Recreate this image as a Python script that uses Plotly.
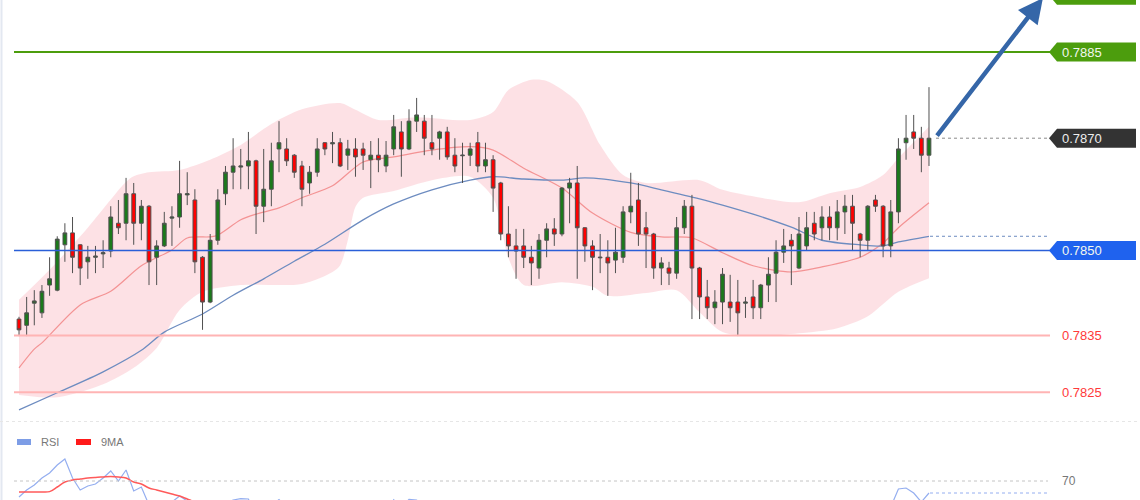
import plotly.graph_objects as go

# ---------------- data ----------------
opens = [0.78379,0.78368,0.78407,0.78390,0.78439,0.78430,0.78510,0.78531,0.78510,0.78480,
         0.78488,0.78494,0.78499,0.78548,0.78548,0.78600,0.78548,0.78578,0.78488,0.78508,
         0.78557,0.78559,0.78598,0.78589,0.78488,0.78409,0.78518,0.78600,0.78638,0.78647,
         0.78649,0.78658,0.78578,0.78608,0.78679,0.78679,0.78668,0.78649,0.78619,0.78638,
         0.78690,0.78688,0.78690,0.78668,0.78679,0.78679,0.78660,0.78668,0.78649,0.78679,
         0.78709,0.78679,0.78728,0.78728,0.78690,0.78698,0.78709,0.78668,0.78667,0.78668,
         0.78690,0.78649,0.78660,0.78619,0.78529,0.78508,0.78508,0.78488,0.78469,0.78518,
         0.78538,0.78529,0.78610,0.78619,0.78540,0.78508,0.78487,0.78488,0.78483,0.78488,
         0.78568,0.78589,0.78540,0.78529,0.78469,0.78469,0.78460,0.78540,0.78578,0.78469,
         0.78418,0.78399,0.78409,0.78409,0.78409,0.78407,0.78418,0.78399,0.78439,0.78460,
         0.78497,0.78518,0.78469,0.78508,0.78548,0.78540,0.78559,0.78540,0.78568,0.78578,
         0.78529,0.78518,0.78589,0.78578,0.78508,0.78568,0.78690,0.78709,0.78698,0.78668]
highs = [0.78383,0.78418,0.78430,0.78439,0.78488,0.78525,0.78548,0.78559,0.78511,0.78508,
         0.78508,0.78518,0.78578,0.78589,0.78628,0.78619,0.78589,0.78580,0.78518,0.78568,
         0.78578,0.78658,0.78638,0.78608,0.78490,0.78529,0.78608,0.78649,0.78698,0.78679,
         0.78709,0.78660,0.78679,0.78690,0.78728,0.78698,0.78670,0.78658,0.78649,0.78698,
         0.78691,0.78709,0.78698,0.78695,0.78698,0.78690,0.78693,0.78698,0.78693,0.78739,
         0.78728,0.78749,0.78769,0.78739,0.78739,0.78711,0.78718,0.78698,0.78690,0.78690,
         0.78709,0.78690,0.78668,0.78621,0.78578,0.78538,0.78538,0.78508,0.78529,0.78548,
         0.78557,0.78612,0.78628,0.78649,0.78541,0.78518,0.78529,0.78518,0.78540,0.78578,
         0.78637,0.78619,0.78568,0.78531,0.78488,0.78480,0.78559,0.78589,0.78598,0.78471,
         0.78448,0.78430,0.78469,0.78457,0.78448,0.78418,0.78448,0.78441,0.78488,0.78518,
         0.78538,0.78529,0.78559,0.78568,0.78568,0.78578,0.78578,0.78589,0.78598,0.78598,
         0.78531,0.78580,0.78598,0.78580,0.78589,0.78698,0.78739,0.78739,0.78718,0.78788]
lows = [0.78349,0.78349,0.78368,0.78381,0.78420,0.78428,0.78480,0.78460,0.78439,0.78450,
        0.78460,0.78469,0.78488,0.78529,0.78518,0.78510,0.78518,0.78439,0.78439,0.78506,
        0.78508,0.78540,0.78580,0.78460,0.78360,0.78407,0.78510,0.78580,0.78608,0.78608,
        0.78608,0.78529,0.78550,0.78578,0.78638,0.78649,0.78628,0.78578,0.78600,0.78630,
        0.78668,0.78654,0.78647,0.78642,0.78630,0.78642,0.78610,0.78638,0.78638,0.78668,
        0.78630,0.78677,0.78709,0.78668,0.78668,0.78660,0.78660,0.78638,0.78619,0.78649,
        0.78638,0.78638,0.78568,0.78518,0.78488,0.78450,0.78469,0.78439,0.78450,0.78488,
        0.78508,0.78525,0.78548,0.78450,0.78480,0.78430,0.78460,0.78420,0.78460,0.78478,
        0.78548,0.78508,0.78469,0.78450,0.78439,0.78439,0.78450,0.78529,0.78379,0.78379,
        0.78379,0.78370,0.78370,0.78374,0.78349,0.78381,0.78379,0.78379,0.78409,0.78409,
        0.78478,0.78439,0.78467,0.78499,0.78518,0.78518,0.78518,0.78518,0.78529,0.78499,
        0.78488,0.78499,0.78568,0.78488,0.78488,0.78548,0.78660,0.78679,0.78638,0.78649]
closes = [0.78360,0.78390,0.78411,0.78428,0.78450,0.78520,0.78531,0.78488,0.78469,0.78488,
          0.78490,0.78496,0.78559,0.78540,0.78600,0.78548,0.78578,0.78480,0.78508,0.78548,
          0.78559,0.78600,0.78600,0.78480,0.78409,0.78518,0.78589,0.78638,0.78649,0.78649,
          0.78658,0.78578,0.78608,0.78658,0.78690,0.78658,0.78638,0.78608,0.78638,0.78679,
          0.78679,0.78690,0.78649,0.78679,0.78665,0.78668,0.78668,0.78660,0.78668,0.78718,
          0.78679,0.78728,0.78739,0.78698,0.78679,0.78709,0.78665,0.78649,0.78668,0.78679,
          0.78649,0.78660,0.78610,0.78529,0.78508,0.78499,0.78488,0.78478,0.78518,0.78538,
          0.78529,0.78610,0.78619,0.78540,0.78508,0.78488,0.78488,0.78478,0.78497,0.78568,
          0.78578,0.78529,0.78529,0.78469,0.78478,0.78460,0.78540,0.78578,0.78469,0.78418,
          0.78399,0.78409,0.78458,0.78399,0.78390,0.78409,0.78399,0.78439,0.78458,0.78497,
          0.78508,0.78508,0.78529,0.78540,0.78529,0.78559,0.78540,0.78568,0.78578,0.78548,
          0.78518,0.78578,0.78578,0.78508,0.78568,0.78679,0.78698,0.78698,0.78668,0.78698]

# Bollinger envelope (upper / lower), middle average (red) and slow average (blue)
up_idx = [0, 4, 9, 14, 15, 17, 21, 25, 29, 33, 37, 42, 44, 47, 52, 59, 62, 64, 67, 69, 73, 76, 79, 82, 89, 92, 97, 102, 106, 110, 113, 115, 119]
up_val = [0.78413, 0.78466, 0.78540, 0.78621, 0.78631, 0.78638, 0.78642, 0.78660, 0.78686, 0.78723, 0.78749,
          0.78760, 0.78748, 0.78730, 0.78735, 0.78730, 0.78744, 0.78783, 0.78801, 0.78799, 0.78762, 0.78686,
          0.78633, 0.78619, 0.78624, 0.78607, 0.78593, 0.78585, 0.78601, 0.78612, 0.78633, 0.78663, 0.78718]
lo_idx = [0, 5, 11, 15, 18, 21, 24, 29, 37, 41, 42, 43, 44, 45, 49, 54, 59, 62, 63, 64, 66, 71, 75, 77, 82, 86, 89, 92, 97, 102, 107, 111, 115, 119]
lo_val = [0.78245, 0.78241, 0.78264, 0.78293, 0.78328, 0.78395, 0.78427, 0.78439, 0.78441, 0.78462, 0.78474,
          0.78518, 0.78577, 0.78593, 0.78605, 0.78624, 0.78630, 0.78593, 0.78545, 0.78487, 0.78439, 0.78444,
          0.78436, 0.78420, 0.78425, 0.78430, 0.78391, 0.78356, 0.78349, 0.78354, 0.78363, 0.78384, 0.78427, 0.78451]
mid_idx = [0, 2, 3, 8, 12, 16, 20, 22, 25, 26, 29, 31, 34, 37, 41, 45, 49, 54, 59, 62, 66, 71, 75, 80, 84, 88, 92, 96, 101, 105, 110, 113, 115, 119]
mid_val = [0.78293, 0.78326, 0.78337, 0.78404, 0.78428, 0.78473, 0.78501, 0.78522, 0.78524, 0.78527, 0.78554,
           0.78564, 0.78575, 0.78593, 0.78614, 0.78656, 0.78665, 0.78677, 0.78683, 0.78677, 0.78645, 0.78610,
           0.78566, 0.78532, 0.78524, 0.78522, 0.78496, 0.78473, 0.78462, 0.78471, 0.78488, 0.78513, 0.78540, 0.78584]
slow_idx = [0, 5, 11, 16, 19, 24, 28, 32, 36, 40, 45, 49, 54, 59, 62, 66, 71, 74, 80, 84, 89, 92, 96, 101, 105, 110, 113, 115, 119]
slow_val = [0.78219, 0.78249, 0.78286, 0.78324, 0.78356, 0.78388, 0.78421, 0.78450, 0.78481, 0.78511, 0.78554,
            0.78582, 0.78607, 0.78624, 0.78630, 0.78626, 0.78624, 0.78628, 0.78619, 0.78607, 0.78591, 0.78580,
            0.78564, 0.78541, 0.78518, 0.78510, 0.78508, 0.78515, 0.78525]

rsi = [62, 65.5, 68, 71.5, 74, 78, 81, 71.5, 65.5, 67.5,
       68.5, 71.5, 75, 70, 75.5, 65, 67, 58, 59, 60,
       59.5, 62.5, 60, 54, 47, 52, 56, 58.5, 60.5, 61.2,
       61, 52, 55, 58, 60.7, 57, 54, 51, 53, 58,
       58, 59, 54, 56, 54, 53, 54, 53, 54, 60.6,
       57, 60.8, 60.5, 55, 53, 55, 51, 48, 49, 50,
       46, 47, 40, 32, 30, 29, 30, 28, 38, 42,
       41, 52, 53, 43, 39, 37, 37, 36, 38, 47,
       48, 42, 41, 36, 37, 36, 46, 50, 38, 33,
       31, 32, 38, 37, 35, 36, 35, 40, 43, 48,
       50, 49, 53, 55, 53, 55, 53, 55, 56, 52,
       50, 56, 55, 48, 57, 66, 66.5, 64, 59.5, 64]
rsi_ma9 = [64.5, 64.5, 64.5, 64.5, 64.7, 67, 69.5, 70.5, 71, 71.5,
           71.8, 72, 72.2, 72, 71.5, 69.5, 68.5, 66.5, 65.5, 64.5,
           63.5, 62.5, 61, 59.5, 58.5, 58, 57.5, 57, 57, 57.5,
           58, 57.5, 57.5, 58, 58.5, 58.5, 58, 57, 56, 56,
           56, 56.5, 56, 55.5, 55.5, 55.5, 55, 54.5, 54.5, 55,
           55.5, 56, 56.5, 56.5, 56, 56, 55.5, 54.5, 53.5, 52.5,
           51, 50, 48, 45.5, 43, 40.5, 38, 35.5, 34.5, 34.5,
           35, 37, 39.5, 41, 42, 42, 41.5, 41, 40.5, 41,
           41.5, 40.5, 40, 40, 40, 40, 40.5, 41, 40.5, 39.5,
           38.5, 37.5, 37, 36.5, 35.5, 35, 35, 35.5, 36.5, 38,
           40, 42, 44, 46.5, 48.5, 50.5, 52, 53, 54, 54.5,
           54, 54, 54.5, 54, 54, 55, 56, 57, 57.5, 58]

levels = [0.7895, 0.7885, 0.7850, 0.7835, 0.7825]
level_labels = ["0.7895", "0.7885", "0.7850", "0.7835", "0.7825"]
level_kind = ["tag", "tag", "tag", "text", "text"]
level_colors = ["#4c9d0d", "#4c9d0d", "#1f62ee", "#ff3a3a", "#ff3a3a"]
line_colors = ["#4c9d0d", "#4c9d0d", "#2a5fd8", "#ffb4b4", "#ffb4b4"]
line_widths = [2, 2, 1.5, 2, 2]
rsi_level = 70

# ---------------- layout geometry ----------------
W, H = 1140, 500
X0_PX, STEP_PX = 19.0, 7.647          # first candle centre and candle spacing
Y_TOP, Y_BOT = 0.789417, 0.782010     # price range of the main pane
MAIN_H = 420.0
R_TOP, R_BOT = 100.5, 60.5            # RSI range visible in the lower pane

def px(xp):
    return xp / W

def py(yp):
    return 1 - yp / H

x_range = [(0 - X0_PX) / STEP_PX, (W - X0_PX) / STEP_PX]
idx = list(range(len(opens)))
n = len(opens)
hh = 9.5 * (Y_TOP - Y_BOT) / MAIN_H   # half tag height in price units
main_dom = [1 - MAIN_H / H, 1]

fig = go.Figure()

# envelope (main y axis, drawn underneath)
fig.add_trace(go.Scatter(x=lo_idx, y=lo_val, mode="lines", line=dict(width=0, shape="spline", smoothing=0.8),
                         hoverinfo="skip", showlegend=False))
fig.add_trace(go.Scatter(x=up_idx, y=up_val, mode="lines", line=dict(width=0, shape="spline", smoothing=0.8),
                         fill="tonexty", fillcolor="rgba(252,196,204,0.50)", hoverinfo="skip", showlegend=False))
# averages
fig.add_trace(go.Scatter(x=mid_idx, y=mid_val, mode="lines",
                         line=dict(color="rgba(240,120,120,0.75)", width=1.2, shape="spline", smoothing=0.8),
                         hoverinfo="skip", showlegend=False))
fig.add_trace(go.Scatter(x=slow_idx, y=slow_val, mode="lines",
                         line=dict(color="#6d8cc0", width=1.3, shape="spline", smoothing=0.8),
                         hoverinfo="skip", showlegend=False))
# candles on an overlaying axis so they sit above the envelope
fig.add_trace(go.Candlestick(x=idx, open=opens, high=highs, low=lows, close=closes, yaxis="y3",
                             increasing=dict(line=dict(color="#505050", width=1), fillcolor="#1b7a1b"),
                             decreasing=dict(line=dict(color="#505050", width=1), fillcolor="#ff0000"),
                             whiskerwidth=0, showlegend=False, hoverinfo="skip"))

# RSI pane
fig.add_trace(go.Scatter(x=idx, y=rsi, mode="lines", yaxis="y2",
                         line=dict(color="#94aef0", width=1.2), hoverinfo="skip", showlegend=False))
fig.add_trace(go.Scatter(x=idx, y=rsi_ma9, mode="lines", yaxis="y2",
                         line=dict(color="#ff5a5a", width=1.5, shape="spline"), hoverinfo="skip", showlegend=False))

shapes = []
annotations = []

# left edge stripe and pane separator
shapes.append(dict(type="line", xref="paper", yref="paper", x0=px(1.5), x1=px(1.5), y0=0, y1=1,
                   line=dict(color="#e3e8f1", width=2)))
shapes.append(dict(type="line", xref="paper", yref="paper", x0=0, x1=1, y0=py(421.5), y1=py(421.5),
                   line=dict(color="#e6e6e6", width=1, dash="dot")))

# level lines with tags
for lv, lab, kind, tc, lc, lw in zip(levels, level_labels, level_kind, level_colors, line_colors, line_widths):
    shapes.append(dict(type="line", xref="paper", yref="y", x0=px(14), x1=px(1050), y0=lv, y1=lv,
                       line=dict(color=lc, width=lw)))
    if kind == "tag":
        path = (f"M {px(1049)},{lv} L {px(1057)},{lv + hh} L {px(1136)},{lv + hh} "
                f"L {px(1136)},{lv - hh} L {px(1057)},{lv - hh} Z")
        shapes.append(dict(type="path", xref="paper", yref="y", path=path, fillcolor=tc, line=dict(width=0)))
        annotations.append(dict(x=px(1060), y=lv, xref="paper", yref="y", text=lab, showarrow=False,
                                xanchor="left", yanchor="middle",
                                font=dict(family="Liberation Sans, Arial", size=13, color="#f2f7ee")))
    else:
        annotations.append(dict(x=px(1060), y=lv, xref="paper", yref="y", text=lab, showarrow=False,
                                xanchor="left", yanchor="middle",
                                font=dict(family="Liberation Sans, Arial", size=13, color=tc)))

# current price dotted line and tag
last = closes[-1]
shapes.append(dict(type="line", xref="paper", yref="y", x0=px(936), x1=px(1050), y0=last, y1=last,
                   line=dict(color="#8a8a8a", width=1, dash="dot")))
path = (f"M {px(1049)},{last} L {px(1057)},{last + hh} L {px(1136)},{last + hh} "
        f"L {px(1136)},{last - hh} L {px(1057)},{last - hh} Z")
shapes.append(dict(type="path", xref="paper", yref="y", path=path, fillcolor="#333333", line=dict(width=0)))
annotations.append(dict(x=px(1060), y=last, xref="paper", yref="y", text=f"{last:.4f}", showarrow=False,
                        xanchor="left", yanchor="middle",
                        font=dict(family="Liberation Sans, Arial", size=13, color="#eeeeee")))

# slow average projection (dotted)
shapes.append(dict(type="line", xref="paper", yref="y", x0=px(930), x1=px(1048), y0=slow_val[-1], y1=slow_val[-1],
                   line=dict(color="#6d8cc0", width=1, dash="dot")))

# RSI 70 line, label and projection
shapes.append(dict(type="line", xref="paper", yref="y2", x0=px(14), x1=px(1048), y0=rsi_level, y1=rsi_level,
                   line=dict(color="#c4c4c4", width=1, dash="dot")))
annotations.append(dict(x=px(1060), y=rsi_level, xref="paper", yref="y2", text=str(rsi_level), showarrow=False,
                        xanchor="left", yanchor="middle",
                        font=dict(family="Liberation Sans, Arial", size=12, color="#777777")))
shapes.append(dict(type="line", xref="paper", yref="y2", x0=px(930), x1=px(1047), y0=rsi[-1], y1=rsi[-1],
                   line=dict(color="#94aef0", width=1, dash="dot")))

# RSI legend
shapes.append(dict(type="rect", xref="paper", yref="paper", x0=px(17), x1=px(31), y0=py(445), y1=py(439),
                   fillcolor="#7d9de6", line=dict(width=0)))
annotations.append(dict(x=px(39), y=py(442), xref="paper", yref="paper", text="RSI", showarrow=False,
                        xanchor="left", yanchor="middle",
                        font=dict(family="Liberation Sans, Arial", size=11, color="#777777")))
shapes.append(dict(type="rect", xref="paper", yref="paper", x0=px(76), x1=px(91), y0=py(445), y1=py(439),
                   fillcolor="#ff1a1a", line=dict(width=0)))
annotations.append(dict(x=px(99), y=py(442), xref="paper", yref="paper", text="9MA", showarrow=False,
                        xanchor="left", yanchor="middle",
                        font=dict(family="Liberation Sans, Arial", size=11, color="#777777")))

# forecast arrow
annotations.append(dict(x=133.9, y=0.789452, xref="x", yref="y", ax=n - 1 + 0.9, ay=last + 0.00002,
                        axref="x", ayref="y", text="", showarrow=True, arrowhead=2, arrowsize=1.1,
                        arrowwidth=4.5, arrowcolor="#3566a8", standoff=0, startstandoff=0))

fig.update_layout(
    width=W, height=H,
    margin=dict(l=0, r=0, t=0, b=0),
    paper_bgcolor="#ffffff", plot_bgcolor="#ffffff",
    showlegend=False,
    hovermode=False,
    xaxis=dict(range=x_range, visible=False, showgrid=False, zeroline=False, fixedrange=True,
               rangeslider=dict(visible=False)),
    yaxis=dict(domain=main_dom, range=[Y_BOT, Y_TOP], visible=False, showgrid=False,
               zeroline=False, fixedrange=True),
    yaxis3=dict(domain=main_dom, range=[Y_BOT, Y_TOP], visible=False, showgrid=False,
                zeroline=False, fixedrange=True, overlaying="y", anchor="x"),
    yaxis2=dict(domain=[0, 1 - MAIN_H / H], range=[R_BOT, R_TOP], visible=False, showgrid=False,
                zeroline=False, fixedrange=True, anchor="x"),
    shapes=shapes,
    annotations=annotations,
)

fig.write_html("out.html", config={"displayModeBar": False},
               post_script="document.body.style.margin='0px';document.body.style.padding='0px';")
